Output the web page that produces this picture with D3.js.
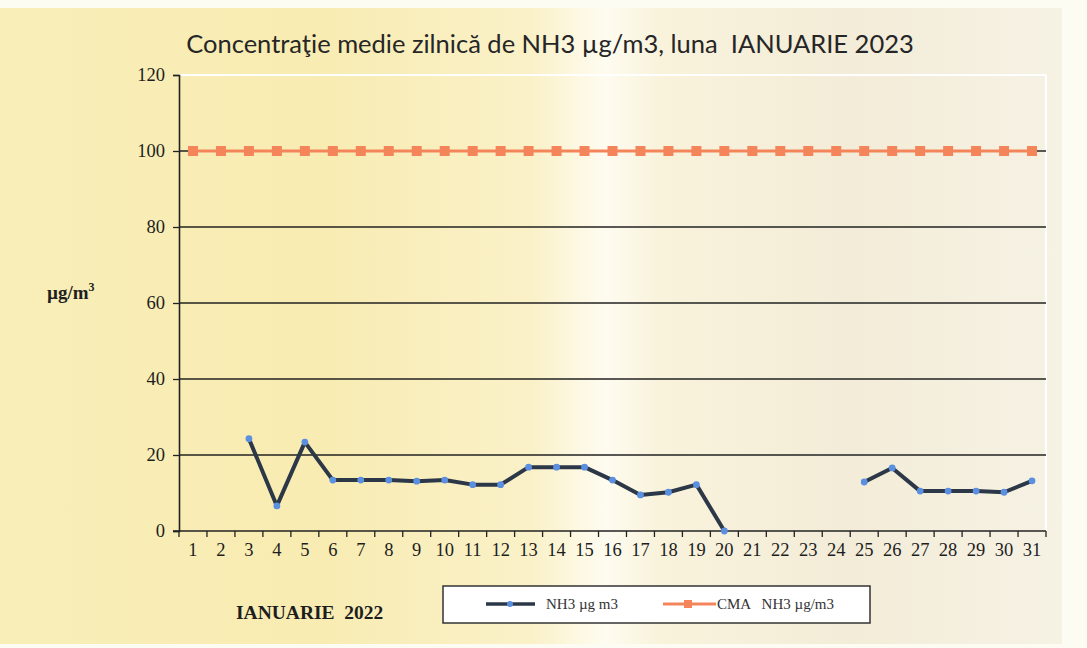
<!DOCTYPE html>
<html><head><meta charset="utf-8">
<script src="https://cdn.jsdelivr.net/npm/d3@7"></script>
<style>body{margin:0;background:#fdfcf3;}svg{display:block;}</style>
</head><body>
<svg id="c" width="1087" height="648"></svg>
<script>
const days = d3.range(1, 32).map(String);
const nh3 = [null,null,24.3,6.6,23.4,13.4,13.4,13.4,13.1,13.4,12.2,12.2,16.8,16.8,16.8,13.4,9.5,10.2,12.2,0,null,null,null,null,12.9,16.6,10.5,10.5,10.5,10.2,13.2];
const cma = days.map(() => 100);
const yTicks = [0,20,40,60,80,100,120];
const title = "Concentraţie medie zilnică de NH3 µg/m3, luna  IANUARIE 2023";
const legendLabels = ["NH3 µg m3", "CMA   NH3 µg/m3"];

const svg = d3.select("#c");
const defs = svg.append("defs");
const g = defs.append("linearGradient").attr("id","bg").attr("x1","0").attr("x2","1").attr("y1","0").attr("y2","0");
[[0,"#f9eeb8"],[0.3,"#f8ecb2"],[0.5,"#faf1c8"],[0.57,"#fefcf0"],[0.62,"#f9f3dc"],[0.8,"#f3ecd8"],[1,"#f6f2e4"]].forEach(([o,c])=>g.append("stop").attr("offset",o).attr("stop-color",c));
svg.append("rect").attr("x",0).attr("y",0).attr("width",1087).attr("height",648).attr("fill","#fdfcf3");
svg.append("rect").attr("x",0).attr("y",8).attr("width",1062).attr("height",636).attr("fill","url(#bg)");

const m = {l:179, r:1046, t:75, b:531};
const x = d3.scaleBand().domain(days).range([m.l, m.r]);
const y = d3.scaleLinear().domain([0,120]).range([m.b, m.t]);

// title
svg.append("text").attr("x",550).attr("y",53).attr("text-anchor","middle").style("white-space","pre")
  .attr("font-family","Lato, 'Open Sans', sans-serif").attr("font-size",25.5).attr("fill","#262626").text(title);

// plot border (white top/right)
svg.append("line").attr("x1",m.l).attr("x2",m.r).attr("y1",y(120)).attr("y2",y(120)).attr("stroke","#ffffff").attr("stroke-width",2);
svg.append("line").attr("x1",m.r).attr("x2",m.r).attr("y1",y(120)).attr("y2",m.b).attr("stroke","#ffffff").attr("stroke-width",2);

// gridlines
svg.append("g").selectAll("line").data(yTicks.filter(t=>t>0 && t<120)).join("line")
  .attr("x1",m.l).attr("x2",m.r).attr("y1",d=>y(d)).attr("y2",d=>y(d)).attr("stroke","#222").attr("stroke-width",1.4);

// y axis
const ya = svg.append("g").attr("transform",`translate(${m.l},0)`)
  .call(d3.axisLeft(y).tickValues(yTicks).tickSize(6).tickPadding(8));
ya.select(".domain").attr("stroke","#222").attr("stroke-width",1.6);
ya.selectAll(".tick line").attr("stroke","#222").attr("stroke-width",1.3);
ya.selectAll("text").attr("font-family","'Liberation Serif', serif").attr("font-size",18.5).attr("fill","#1e1e1e");

// x axis
const xa = svg.append("g").attr("transform",`translate(0,${m.b})`)
  .call(d3.axisBottom(x).tickSize(0).tickPadding(12));
xa.select(".domain").remove();
xa.selectAll("text").attr("font-family","'Liberation Serif', serif").attr("font-size",18.5).attr("fill","#1e1e1e");
svg.append("line").attr("x1",m.l-6).attr("x2",m.r).attr("y1",m.b).attr("y2",m.b).attr("stroke","#222").attr("stroke-width",1.6);
const bounds = days.map(d=>x(d)).concat([m.r]);
svg.append("g").selectAll("line").data(bounds).join("line")
  .attr("x1",d=>d).attr("x2",d=>d).attr("y1",m.b).attr("y2",m.b+6).attr("stroke","#222").attr("stroke-width",1.3);

// axis labels
svg.append("text").attr("x",47).attr("y",299).attr("font-family","'Liberation Serif', serif").attr("font-weight","bold").attr("font-size",19).attr("fill","#1e1e1e")
  .html('µg/m<tspan dy="-8" font-size="12">3</tspan>');
svg.append("text").attr("x",236).attr("y",619).style("white-space","pre").attr("font-family","'Liberation Serif', serif").attr("font-weight","bold").attr("font-size",19.5).attr("fill","#1e1e1e").text("IANUARIE  2022");

const cx = d => x(d) + x.bandwidth()/2;

// CMA series
svg.append("path").datum(cma).attr("fill","none").attr("stroke","#f4855a").attr("stroke-width",3)
  .attr("d", d3.line().x((d,i)=>cx(days[i])).y(d=>y(d)));
svg.append("g").selectAll("rect").data(cma).join("rect")
  .attr("x",(d,i)=>cx(days[i])-5).attr("y",d=>y(d)-5).attr("width",10).attr("height",10).attr("fill","#f4855a");

// NH3 series
svg.append("path").datum(nh3).attr("fill","none").attr("stroke","#2c3747").attr("stroke-width",4).attr("stroke-linejoin","round")
  .attr("d", d3.line().defined(d=>d!==null).x((d,i)=>cx(days[i])).y(d=>y(d)));
svg.append("g").selectAll("circle").data(nh3.map((v,i)=>({v,i})).filter(d=>d.v!==null)).join("circle")
  .attr("cx",d=>cx(days[d.i])).attr("cy",d=>y(d.v)).attr("r",3.4).attr("fill","#5b8fe0");

// legend
const lg = svg.append("g");
lg.append("rect").attr("x",443).attr("y",586).attr("width",427).attr("height",37).attr("fill","#ffffff").attr("stroke","#333").attr("stroke-width",1.5);
lg.append("line").attr("x1",486).attr("x2",535).attr("y1",604).attr("y2",604).attr("stroke","#2c3747").attr("stroke-width",3.5);
lg.append("circle").attr("cx",510).attr("cy",604).attr("r",3).attr("fill","#5b8fe0");
lg.append("text").attr("x",546).attr("y",609).attr("font-family","'Liberation Serif', serif").attr("font-size",15).attr("fill","#333").text(legendLabels[0]);
lg.append("line").attr("x1",663).attr("x2",716).attr("y1",604).attr("y2",604).attr("stroke","#f4855a").attr("stroke-width",3);
lg.append("rect").attr("x",684).attr("y",600).attr("width",8).attr("height",8).attr("fill","#f4855a");
lg.append("text").attr("x",717).attr("y",609).attr("font-family","'Liberation Serif', serif").attr("font-size",15).attr("fill","#333").style("white-space","pre").text(legendLabels[1]);
</script>
</body></html>
